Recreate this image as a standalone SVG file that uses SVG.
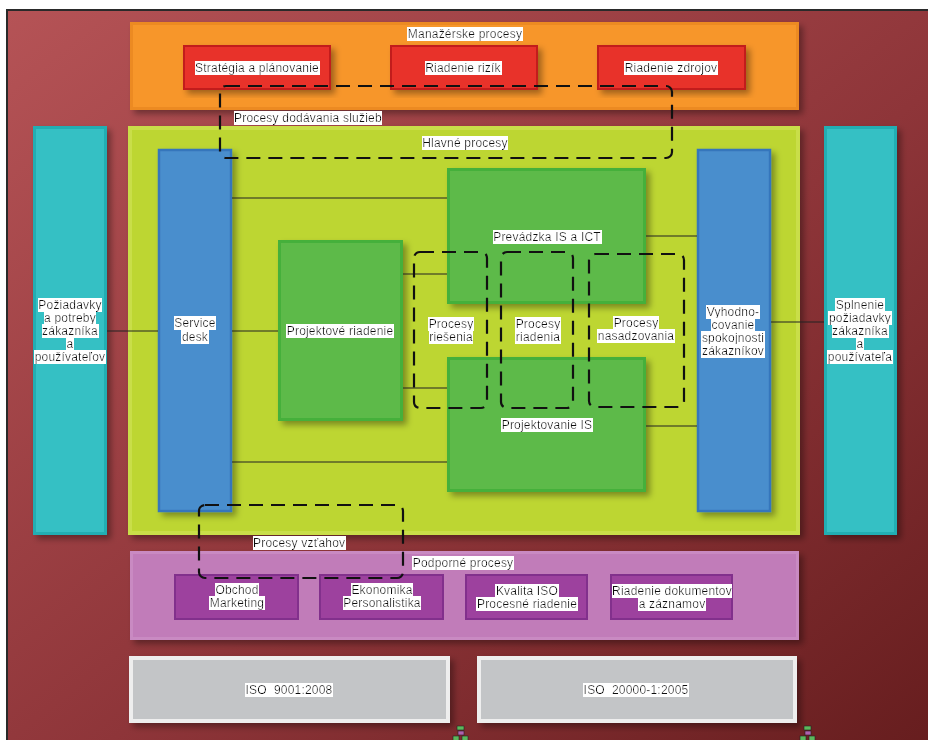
<svg xmlns="http://www.w3.org/2000/svg" width="928" height="740" viewBox="0 0 928 740">
<defs>
<linearGradient id="bg" x1="0" y1="0" x2="1" y2="1">
<stop offset="0" stop-color="#b55356"/>
<stop offset="0.55" stop-color="#8e3539"/>
<stop offset="1" stop-color="#661d1e"/>
</linearGradient>
<filter id="sh" x="-10%" y="-10%" width="130%" height="130%">
<feDropShadow dx="4" dy="4" stdDeviation="3" flood-color="#000" flood-opacity="0.35"/>
</filter>
<filter id="tb" x="0" y="0" width="1" height="1">
<feFlood flood-color="#ffffff"/>
<feComposite in="SourceGraphic"/>
</filter>
<style>
text{font-family:"Liberation Sans",Arial,sans-serif;font-size:12px;fill:#111;text-anchor:middle;letter-spacing:0.2px;filter:url(#tb)}
.l{text-anchor:start}
.orange{fill:#f7962b;stroke:#ec8a22;stroke-width:3}
.red{fill:#e8312c;stroke:#c21f1d;stroke-width:2}
.lime{fill:#bdd631;stroke:#c9de4a;stroke-width:4}
.cyan{fill:#36c0c4;stroke:#22aeb3;stroke-width:3}
.blue{fill:#4a8ecd;stroke:#3676bc;stroke-width:2.5}
.green{fill:#5dba48;stroke:#45b03a;stroke-width:3}
.purple{fill:#c17bb9;stroke:#c98ac2;stroke-width:3}
.dpurple{fill:#9d419e;stroke:#82308c;stroke-width:2}
.grey{fill:#c3c5c7;stroke:#eeeeee;stroke-width:4}
.dash{fill:none;stroke:#111;stroke-width:2.2;stroke-dasharray:14 8}
.con{stroke:#222;stroke-width:1.2;fill:none}
</style>
</defs>

<rect x="0" y="0" width="928" height="740" fill="#ffffff"/>
<rect id="frame" x="7" y="10" width="930" height="740" fill="url(#bg)" stroke="#2a2a2a" stroke-width="2"/>

<g id="manazerske">
<rect class="orange" x="131.5" y="23.5" width="666" height="85" filter="url(#sh)"/>
<text x="465" y="38">Manažérske procesy</text>
</g>
<g id="strategia">
<rect class="red" x="184" y="46" width="146" height="43" filter="url(#sh)"/>
<text x="257" y="72">Stratégia a plánovanie</text>
</g>
<g id="rizika">
<rect class="red" x="391" y="46" width="146" height="43" filter="url(#sh)"/>
<text x="463" y="72">Riadenie rizík</text>
</g>
<g id="zdroje">
<rect class="red" x="598" y="46" width="147" height="43" filter="url(#sh)"/>
<text x="671" y="72">Riadenie zdrojov</text>
</g>

<g id="hlavne">
<rect class="lime" x="130" y="128" width="668" height="405" filter="url(#sh)"/>
<text x="465" y="147">Hlavné procesy</text>
</g>
<g id="poziadavky">
<rect class="cyan" x="34.5" y="127.5" width="71" height="406" filter="url(#sh)"/>
<text x="70" y="309">Požiadavky</text>
<text x="70" y="322">a potreby</text>
<text x="70" y="335">zákazníka</text>
<text x="70" y="348">a</text>
<text x="70" y="361">používateľov</text>
</g>
<g id="splnenie">
<rect class="cyan" x="825.5" y="127.5" width="70" height="406" filter="url(#sh)"/>
<text x="860" y="309">Splnenie</text>
<text x="860" y="322">požiadavky</text>
<text x="860" y="335">zákazníka</text>
<text x="860" y="348">a</text>
<text x="860" y="361">používateľa</text>
</g>
<g id="servicedesk">
<rect class="blue" x="159" y="150" width="72" height="361" filter="url(#sh)"/>
<text x="195" y="327">Service</text>
<text x="195" y="341">desk</text>
</g>
<g id="vyhodnocovanie">
<rect class="blue" x="698" y="150" width="72" height="361" filter="url(#sh)"/>
<text x="733" y="316">Vyhodno-</text>
<text x="733" y="329">covanie</text>
<text x="733" y="342">spokojnosti</text>
<text x="733" y="355">zákazníkov</text>
</g>
<g id="projektove">
<rect class="green" x="279.5" y="241.5" width="122" height="178" filter="url(#sh)"/>
<text x="340" y="335">Projektové riadenie</text>
</g>
<g id="prevadzka">
<rect class="green" x="448.5" y="169.5" width="196" height="133" filter="url(#sh)"/>
<text x="547" y="241">Prevádzka IS a ICT</text>
</g>
<g id="projektovanie">
<rect class="green" x="448.5" y="358.5" width="196" height="132" filter="url(#sh)"/>
<text x="547" y="429">Projektovanie IS</text>
</g>

<g id="podporne">
<rect class="purple" x="131.5" y="552.5" width="666" height="86" filter="url(#sh)"/>
<text x="463" y="567">Podporné procesy</text>
</g>
<g id="obchod">
<rect class="dpurple" x="175" y="575" width="123" height="44"/>
<text x="237" y="594">Obchod</text>
<text x="237" y="607">Marketing</text>
</g>
<g id="ekonomika">
<rect class="dpurple" x="320" y="575" width="123" height="44"/>
<text x="382" y="594">Ekonomika</text>
<text x="382" y="607">Personalistika</text>
</g>
<g id="kvalita">
<rect class="dpurple" x="466" y="575" width="121" height="44"/>
<text x="527" y="595">Kvalita ISO</text>
<text x="527" y="608">Procesné riadenie</text>
</g>
<g id="dokumenty">
<rect class="dpurple" x="611" y="575" width="121" height="44"/>
<text x="672" y="595">Riadenie dokumentov</text>
<text x="672" y="608">a záznamov</text>
</g>

<g id="iso9001">
<rect class="grey" x="131" y="658" width="317" height="63" filter="url(#sh)"/>
<text x="289" y="694">ISO&#160; 9001:2008</text>
</g>
<g id="iso20000">
<rect class="grey" x="479" y="658" width="316" height="63" filter="url(#sh)"/>
<text x="636" y="694">ISO&#160; 20000-1:2005</text>
</g>

<g id="connectors">
<line class="con" x1="107" y1="331" x2="158" y2="331"/>
<line class="con" x1="232" y1="331" x2="278" y2="331"/>
<line class="con" x1="232" y1="198" x2="447" y2="198"/>
<line class="con" x1="232" y1="462" x2="447" y2="462"/>
<line class="con" x1="403" y1="274" x2="447" y2="274"/>
<line class="con" x1="403" y1="388" x2="447" y2="388"/>
<line class="con" x1="646" y1="236" x2="697" y2="236"/>
<line class="con" x1="646" y1="426" x2="697" y2="426"/>
<line class="con" x1="771" y1="322" x2="824" y2="322"/>
</g>

<g id="dodavanie">
<rect class="dash" x="220" y="86" width="452" height="72" rx="6"/>
<text class="l" x="234" y="122">Procesy dodávania služieb</text>
</g>
<g id="riesenia">
<rect class="dash" x="414" y="252" width="73" height="156" rx="6"/>
<text x="451" y="328">Procesy</text>
<text x="451" y="341">riešenia</text>
</g>
<g id="riadenia">
<rect class="dash" x="501" y="252" width="72" height="156" rx="6"/>
<text x="538" y="328">Procesy</text>
<text x="538" y="341">riadenia</text>
</g>
<g id="nasadzovania">
<rect class="dash" x="589" y="254" width="95" height="153" rx="6"/>
<text x="636" y="327">Procesy</text>
<text x="636" y="340">nasadzovania</text>
</g>
<g id="vztahy">
<rect class="dash" x="199" y="505" width="204" height="73" rx="6"/>
<text class="l" x="253" y="547">Procesy vzťahov</text>
</g>
<g id="icon1" stroke="#222" stroke-width="0.6">
<rect x="457" y="726" width="7" height="4" fill="#5cb85c"/>
<rect x="458" y="731" width="6" height="4" fill="#b060b0"/>
<rect x="453" y="736" width="6" height="5" fill="#5cb85c"/>
<rect x="462" y="736" width="6" height="5" fill="#5cb85c"/>
</g>
<g id="icon2" stroke="#222" stroke-width="0.6">
<rect x="804" y="726" width="7" height="4" fill="#5cb85c"/>
<rect x="805" y="731" width="6" height="4" fill="#b060b0"/>
<rect x="800" y="736" width="6" height="5" fill="#5cb85c"/>
<rect x="809" y="736" width="6" height="5" fill="#5cb85c"/>
</g>
</svg>
